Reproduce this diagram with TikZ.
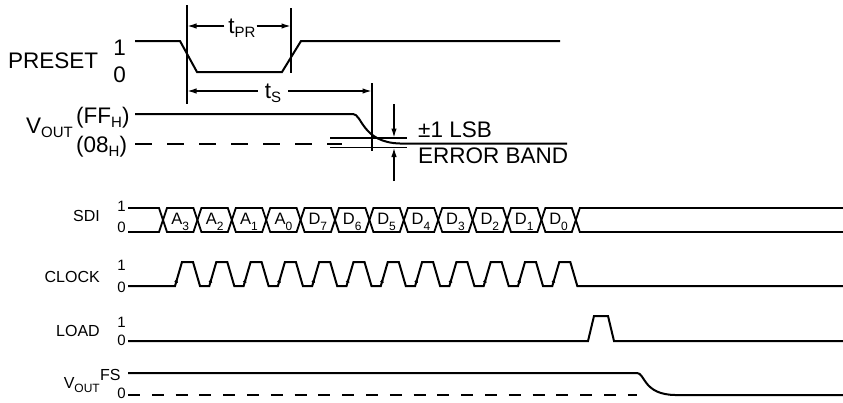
\documentclass[tikz,border=0pt]{standalone}
\usepackage{fontspec}
\setmainfont{Liberation Sans}
\usetikzlibrary{arrows.meta,calc}
\newcommand\bsub[1]{\raisebox{-4.5pt}{\fontsize{15}{15}\selectfont #1}}
\newcommand\ssub[1]{\raisebox{-4pt}{\fontsize{12}{12}\selectfont #1}}
\newcommand\csub[1]{\raisebox{-6pt}{\fontsize{12}{12}\selectfont #1}}
\begin{document}
\begin{tikzpicture}[x=1pt,y=-1pt,
 sig/.style={line width=2pt, line join=miter},
 hexl/.style={line width=1.8pt, line join=miter},
 thinl/.style={line width=1.1pt},
 dim/.style={line width=1.2pt, -{Latex[length=9pt,width=5.5pt]}},
 big/.style={font=\fontsize{22.5}{22.5}\selectfont, inner sep=0pt},
 sml/.style={font=\fontsize{16}{16}\selectfont, inner sep=0pt},
 dig/.style={font=\fontsize{15}{15}\selectfont, inner sep=0pt},
 cell/.style={font=\fontsize{16.5}{16.5}\selectfont, inner sep=0pt}]
\useasboundingbox (0,0) rectangle (843,402);

% ---------- PRESET ----------
\node[big, anchor=base west] (preset) at (8,68) {PRESET};
\node[big, anchor=base east] (p1) at (126,55) {1};
\node[big, anchor=base east] (p0) at (126,82) {0};
\draw[sig] (135,41) -- (180,41) -- (197,72) -- (282,72) -- (301,41) -- (560,41);

% timing verticals
\coordinate (v1t) at (187,5);   \coordinate (v1b) at (187,104);
\coordinate (v2t) at (291,8);   \coordinate (v2b) at (291,73);
\coordinate (v3t) at (372,83);  \coordinate (v3b) at (372,151);
\draw[thinl] (v1t) -- (v1b);
\draw[thinl] (v2t) -- (v2b);
\draw[thinl] (v3t) -- (v3b);

% t_PR
\node[big, anchor=base] (tpr) at (242,33) {t\bsub{PR}};
\coordinate (tprL) at (187.5,26); \coordinate (tprR) at (290.5,26);
\draw[dim] ([xshift=-4pt]tpr.west |- tprL) -- (tprL);
\draw[dim] ([xshift=1pt]tpr.east |- tprR) -- (tprR);

% t_S
\node[big, anchor=base] (ts) at (273,98) {t\bsub{S}};
\coordinate (tsL) at (187.5,91); \coordinate (tsR) at (371.5,91);
\draw[dim] ([xshift=-7pt]ts.west |- tsL) -- (tsL);
\draw[dim] ([xshift=7pt]ts.east |- tsR) -- (tsR);

% ---------- VOUT (top) ----------
\node[big, anchor=base east] (vout) at (73,133) {V\bsub{OUT}};
\node[big, anchor=base west] (ff) at (76,123) {(FF\bsub{H})};
\node[big, anchor=base west] (e8) at (76,152) {(08\bsub{H})};
\draw[sig] (135,114) -- (353,114) .. controls (362,114) and (362,142.5) .. (400,143.5) -- (567,143.5);
\draw[sig, dash pattern=on 17pt off 15pt] (135,143.5) -- (342,143.5);

% error band
\draw[thinl] (330,138) -- (407,138);
\draw[thinl] (330,147.5) -- (407,147.5);
\coordinate (bandT) at (394,137.5); \coordinate (bandB) at (394,148);
\coordinate (arrT) at (394,104);    \coordinate (arrB) at (394,181);
\draw[dim] (arrT) -- (bandT);
\draw[dim] (arrB) -- (bandB);
\node[big, anchor=base west] (lsb) at (418,137) {±1 LSB};
\node[big, anchor=base west] (eb) at (418,163) {ERROR BAND};

% ---------- SDI ----------
\node[sml, anchor=base east] (sdi) at (100,221) {SDI};
\node[dig, anchor=base east] (s1) at (126,211) {1};
\node[dig, anchor=base east] (s0) at (126,232) {0};
\def\P{34.4}
\draw[hexl] (128,208) -- (159,208) -- (163,220) -- (159,232) -- (128,232);
\foreach \i/\t in {0/A\csub{3},1/A\csub{2},2/A\csub{1},3/A\csub{0},4/D\csub{7},5/D\csub{6},6/D\csub{5},7/D\csub{4},8/D\csub{3},9/D\csub{2},10/D\csub{1},11/D\csub{0}}{
  \draw[hexl] ({163+\P*\i},220) -- ({163+\P*\i+4},208) -- ({163+\P*(\i+1)-4},208) -- ({163+\P*(\i+1)},220) -- ({163+\P*(\i+1)-4},232) -- ({163+\P*\i+4},232) -- cycle;
  \node[cell, anchor=base] (c\i) at ({163+\P*(\i+0.5)},224) {\t};
}
\draw[hexl] ({163+\P*12},220) -- ({163+\P*12+4},208) -- (843,208);
\draw[hexl] ({163+\P*12},220) -- ({163+\P*12+4},232) -- (843,232);

% ---------- CLOCK ----------
\node[sml, anchor=base east] (clk) at (100,282) {CLOCK};
\node[dig, anchor=base east] (k1) at (126,270) {1};
\node[dig, anchor=base east] (k0) at (126,292) {0};
\draw[sig] (128,286) \foreach \k in {0,...,11}{ -- ({175+34.3*\k},286) -- ({182+34.3*\k},262) -- ({193+34.3*\k},262) -- ({200+34.3*\k},286)} -- (843,286);
\foreach \k in {0,...,11}{
  \draw[line width=1pt, -{Latex[length=5pt,width=4pt]}] ({175+34.3*\k},286) -- ({177.4+34.3*\k},277.6);
}

% ---------- LOAD ----------
\node[sml, anchor=base east] (load) at (100,336) {LOAD};
\node[dig, anchor=base east] (l1) at (126,327) {1};
\node[dig, anchor=base east] (l0) at (126,345) {0};
\draw[sig] (128,341) -- (588,341) -- (594,316) -- (608,316) -- (614,341) -- (843,341);

% ---------- VOUT (bottom) ----------
\node[sml, anchor=base east] (vout2) at (100,388) {V\ssub{OUT}};
\node[sml, anchor=base west] (fs) at (100,380) {FS};
\node[dig, anchor=base east] (o0) at (126,398) {0};
\draw[sig] (128,373) -- (637,373) .. controls (645,373) and (643,394.5) .. (675,395) -- (843,395);
\draw[sig, dash pattern=on 12pt off 11.8pt] (128,395) -- (637,395);
\end{tikzpicture}
\end{document}
